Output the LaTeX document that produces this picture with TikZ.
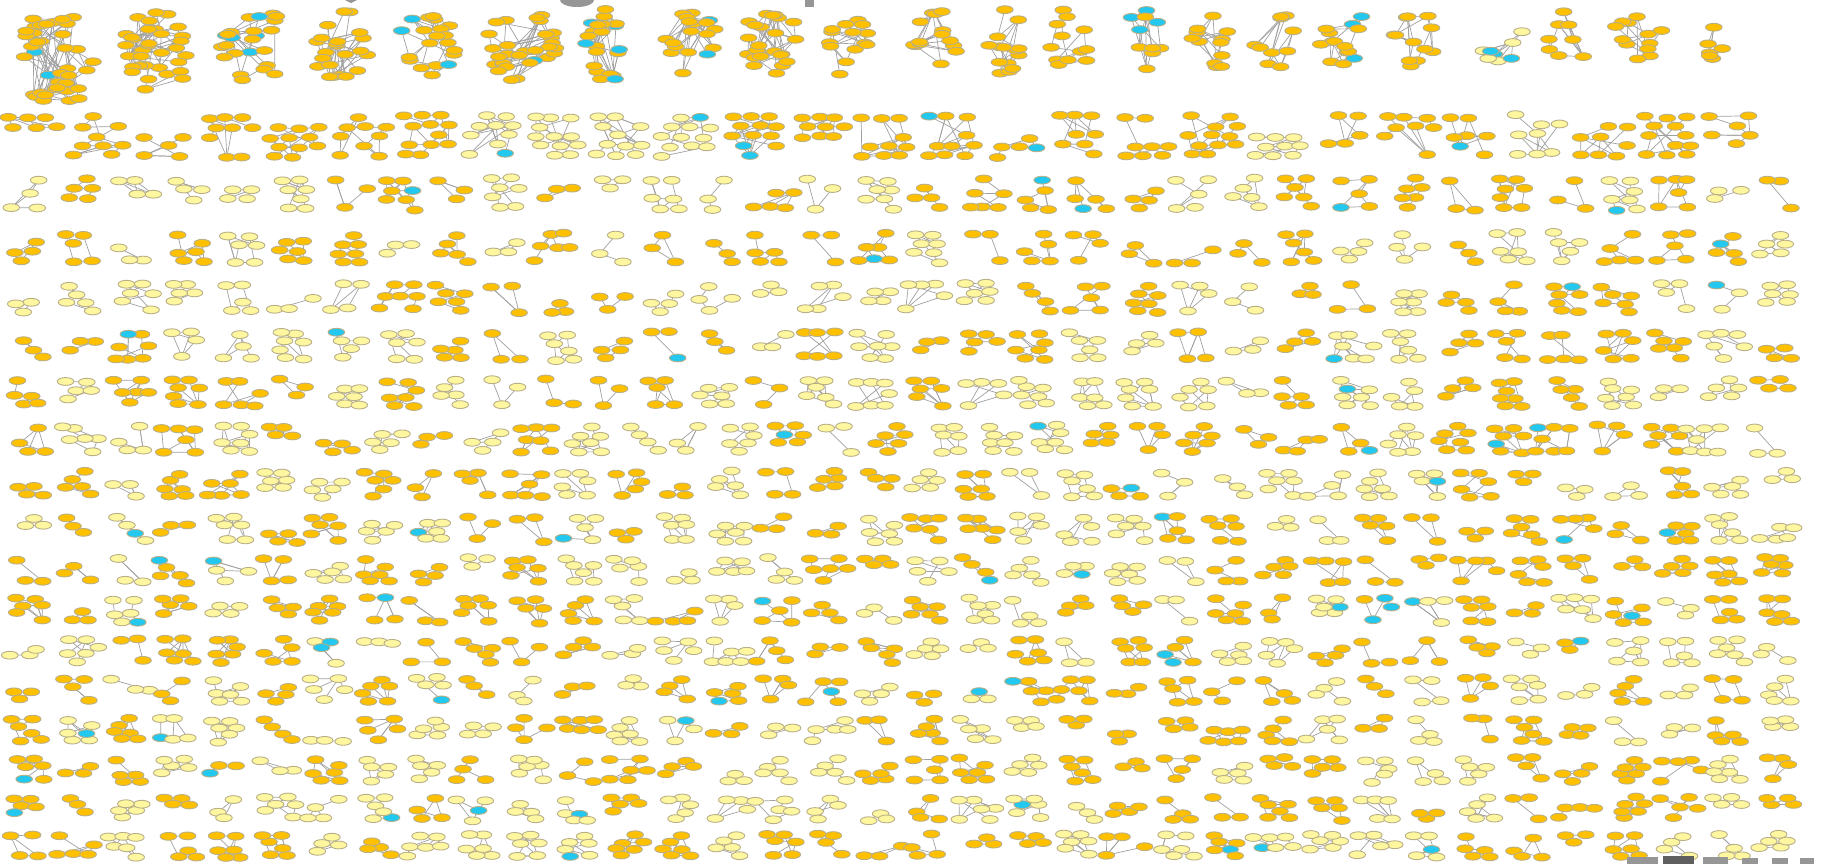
\documentclass[tikz,border=0pt]{standalone}

\definecolor{egoorange}{RGB}{255,192,0}
\definecolor{egopale}{RGB}{255,247,160}
\definecolor{egocyan}{RGB}{34,200,240}
\definecolor{egoring}{RGB}{185,175,135}
\definecolor{egolink}{RGB}{160,160,160}
\definecolor{titlelight}{RGB}{150,150,150}
\definecolor{titledark}{RGB}{95,95,95}

% links and vertices of the graph whose vertices are (v1)...(v#1):
% #2 share of cyan vertices, #3 base fill, #4 extra links per vertex
\newcommand{\egolinks}[4]{%
  \foreach \i in {2,...,#1}{
    \pgfmathtruncatemacro{\j}{1+floor(rnd*(\i-1))}
    \draw[link] (v\i) -- (v\j);
  }
  \pgfmathtruncatemacro{\gextra}{floor(rnd*#1*#4)}
  \ifnum\gextra>0
    \foreach \k in {1,...,\gextra}{
      \pgfmathtruncatemacro{\p}{1+floor(rnd*#1)}
      \pgfmathtruncatemacro{\q}{1+floor(rnd*#1)}
      \draw[link] (v\p) -- (v\q);
    }
  \fi
  \foreach \i in {1,...,#1}{
    \pgfmathsetmacro{\gc}{rnd}
    \ifdim\gc pt<#2pt \def\gcol{egocyan}\else\def\gcol{#3}\fi
    \path[vtx, fill=\gcol] (v\i) ellipse [x radius=8.3, y radius=3.9];
  }
}

% big graph: centre (#1,#2), spread #3 x #4, #5 vertices, cyan share #6, fill #7
\newcommand{\egoblob}[7]{%
  \foreach \i in {1,...,#5}{
    \pgfmathsetmacro{\ga}{360*rnd}
    \pgfmathsetmacro{\gr}{rnd^0.4}
    \coordinate (v\i) at ({#1+0.5*#3*\gr*cos(\ga)},{#2+0.5*#4*\gr*sin(\ga)});
  }
  \egolinks{#5}{#6}{#7}{0.9}
}

% small graph on a brick grid: centre (#1,#2), column step #3, row step #4,
% #5 vertices, #6 columns, #7 rows, fill #8
\newcommand{\egobrick}[8]{%
  \pgfmathtruncatemacro{\gslots}{#6*#7}
  \pgfmathtruncatemacro{\gmul}{1+6*floor(rnd*3)}
  \pgfmathtruncatemacro{\goff}{floor(rnd*\gslots)}
  \foreach \i in {1,...,#5}{
    \pgfmathtruncatemacro{\gslot}{mod(\gmul*\i+\goff,\gslots)}
    \pgfmathtruncatemacro{\gcolm}{mod(\gslot,#6)}
    \pgfmathtruncatemacro{\grow}{floor(\gslot/#6)}
    \pgfmathsetmacro{\gbx}{#1+(\gcolm-(#6-1)/2)*(#3)+(mod(\grow,2)-0.5)*0.4*(#3)+(rnd-0.5)*5}
    \pgfmathsetmacro{\gby}{#2+(\grow-(#7-1)/2)*(#4)+(rnd-0.5)*2}
    \coordinate (v\i) at (\gbx,\gby);
  }
  \egolinks{#5}{0.025}{#8}{0.6}
}

\begin{document}
\begin{tikzpicture}[
    x=0.5pt, y=-0.5pt,
    vtx/.style={draw=egoring, line width=0.45pt},
    link/.style={draw=egolink, line width=0.35pt},
    titlebit/.style={fill=titlelight},
  ]
  \useasboundingbox (0,0) rectangle (1823,864);
  \fill[white] (0,0) rectangle (1823,864);
  \pgfmathsetseed{11}

  % ===== top row: the large graphs =====
  \foreach \gx/\gy/\gw/\gh/\gn/\gs/\gb in {
      55/60/82/100/40/0.08/egoorange, 157/52/70/86/34/0.0/egoorange,
      254/48/74/80/24/0.12/egoorange, 342/47/56/78/22/0.0/egoorange,
      430/46/64/76/20/0.15/egoorange, 521/45/70/76/30/0.04/egoorange,
      610/45/56/76/22/0.12/egoorange, 691/43/56/72/18/0.15/egoorange,
      771/42/58/70/25/0.0/egoorange,  846/42/46/70/14/0.0/egoorange,
      933/41/56/68/14/0.0/egoorange,  1007/42/40/70/14/0.0/egoorange,
      1071/40/42/66/12/0.0/egoorange, 1147/42/44/70/10/0.25/egoorange,
      1210/40/40/66/12/0.06/egoorange, 1274/40/40/66/10/0.0/egoorange,
      1345/38/54/62/14/0.35/egoorange, 1415/38/44/58/12/0.08/egoorange,
      1502/38/42/58/8/0.25/egopale,   1567/40/40/60/8/0.0/egoorange,
      1637/36/50/54/12/0.0/egoorange, 1720/36/36/54/6/0.0/egoorange}
    {\egoblob{\gx}{\gy}{\gw}{\gh}{\gn}{\gs}{\gb}}

  % ===== second row: medium graphs =====
  \foreach \ci in {1,...,27}{
    \pgfmathsetmacro{\gx}{33+(\ci-1)*65.5+(rnd-0.5)*6}
    \pgfmathsetmacro{\gy}{136+(rnd-0.5)*4}
    \pgfmathtruncatemacro{\gn}{5+floor(rnd*8)}
    \pgfmathsetmacro{\gcs}{17+3*rnd}
    \pgfmathsetmacro{\gt}{rnd}
    \ifdim\gt pt<0.6pt \def\gbase{egoorange}\else\def\gbase{egopale}\fi
    \egobrick{\gx}{\gy}{\gcs}{9.5}{\gn}{3}{5}{\gbase}
  }

  % ===== lower rows: many small graphs =====
  \foreach \ry/\rh/\rn/\rx/\rd/\nhi in {
      194/34/34/30/53/7, 248/32/34/28/53/7, 298/30/34/28/53/7,
      346/30/34/28/53/7, 393/29/34/28/53/7, 439/29/35/28/51/7,
      484/27/36/28/50/6, 529/27/36/28/50/6, 570/26/36/28/50/6,
      610/26/36/28/50/6, 651/25/36/28/50/6, 690/25/36/28/50/6,
      730/25/36/28/50/6, 770/25/36/28/50/6, 809/24/36/28/50/6,
      846/24/36/28/50/6}
  {
    \foreach \ci in {1,...,\rn}{
      \pgfmathsetmacro{\gx}{\rx+(\ci-1)*\rd+(rnd-0.5)*8}
      \pgfmathsetmacro{\gy}{\ry+(rnd-0.5)*3}
      \pgfmathsetmacro{\gt}{rnd}
      \ifdim\gt pt<0.55pt \def\gbase{egoorange}\else\def\gbase{egopale}\fi
      \pgfmathtruncatemacro{\gn}{3+floor(rnd*(\nhi-2))}
      \pgfmathsetmacro{\gu}{rnd}
      \ifdim\gu pt<0.2pt
        \pgfmathsetmacro{\gcs}{14+2*rnd}
        \pgfmathsetmacro{\grs}{\rh/2.5}
        \egobrick{\gx}{\gy}{\gcs}{\grs}{\gn}{3}{3}{\gbase}
      \else
        \pgfmathsetmacro{\gcs}{16+4*rnd}
        \pgfmathsetmacro{\grs}{\rh/3.6}
        \egobrick{\gx}{\gy}{\gcs}{\grs}{\gn}{2}{4}{\gbase}
      \fi
    }
  }

  % ===== cut-off grey lettering at the edges =====
  \fill[titlebit] (345,0) -- (357,0) -- (351,3) -- cycle;
  \fill[titlebit] (577,0) ellipse [x radius=17, y radius=7];
  \fill[titlebit] (805,0) rectangle (814,7);
  \fill[titlebit] (1627,857) rectangle (1658,864);
  \fill[titledark] (1663,856) rectangle (1694,864);
  \fill[titlebit] (1703,857) rectangle (1728,864);
  \fill[titlebit] (1742,858) rectangle (1758,864);
  \fill[titlebit] (1772,858) rectangle (1788,864);
  \fill[titlebit] (1800,858) rectangle (1814,864);
\end{tikzpicture}
\end{document}
